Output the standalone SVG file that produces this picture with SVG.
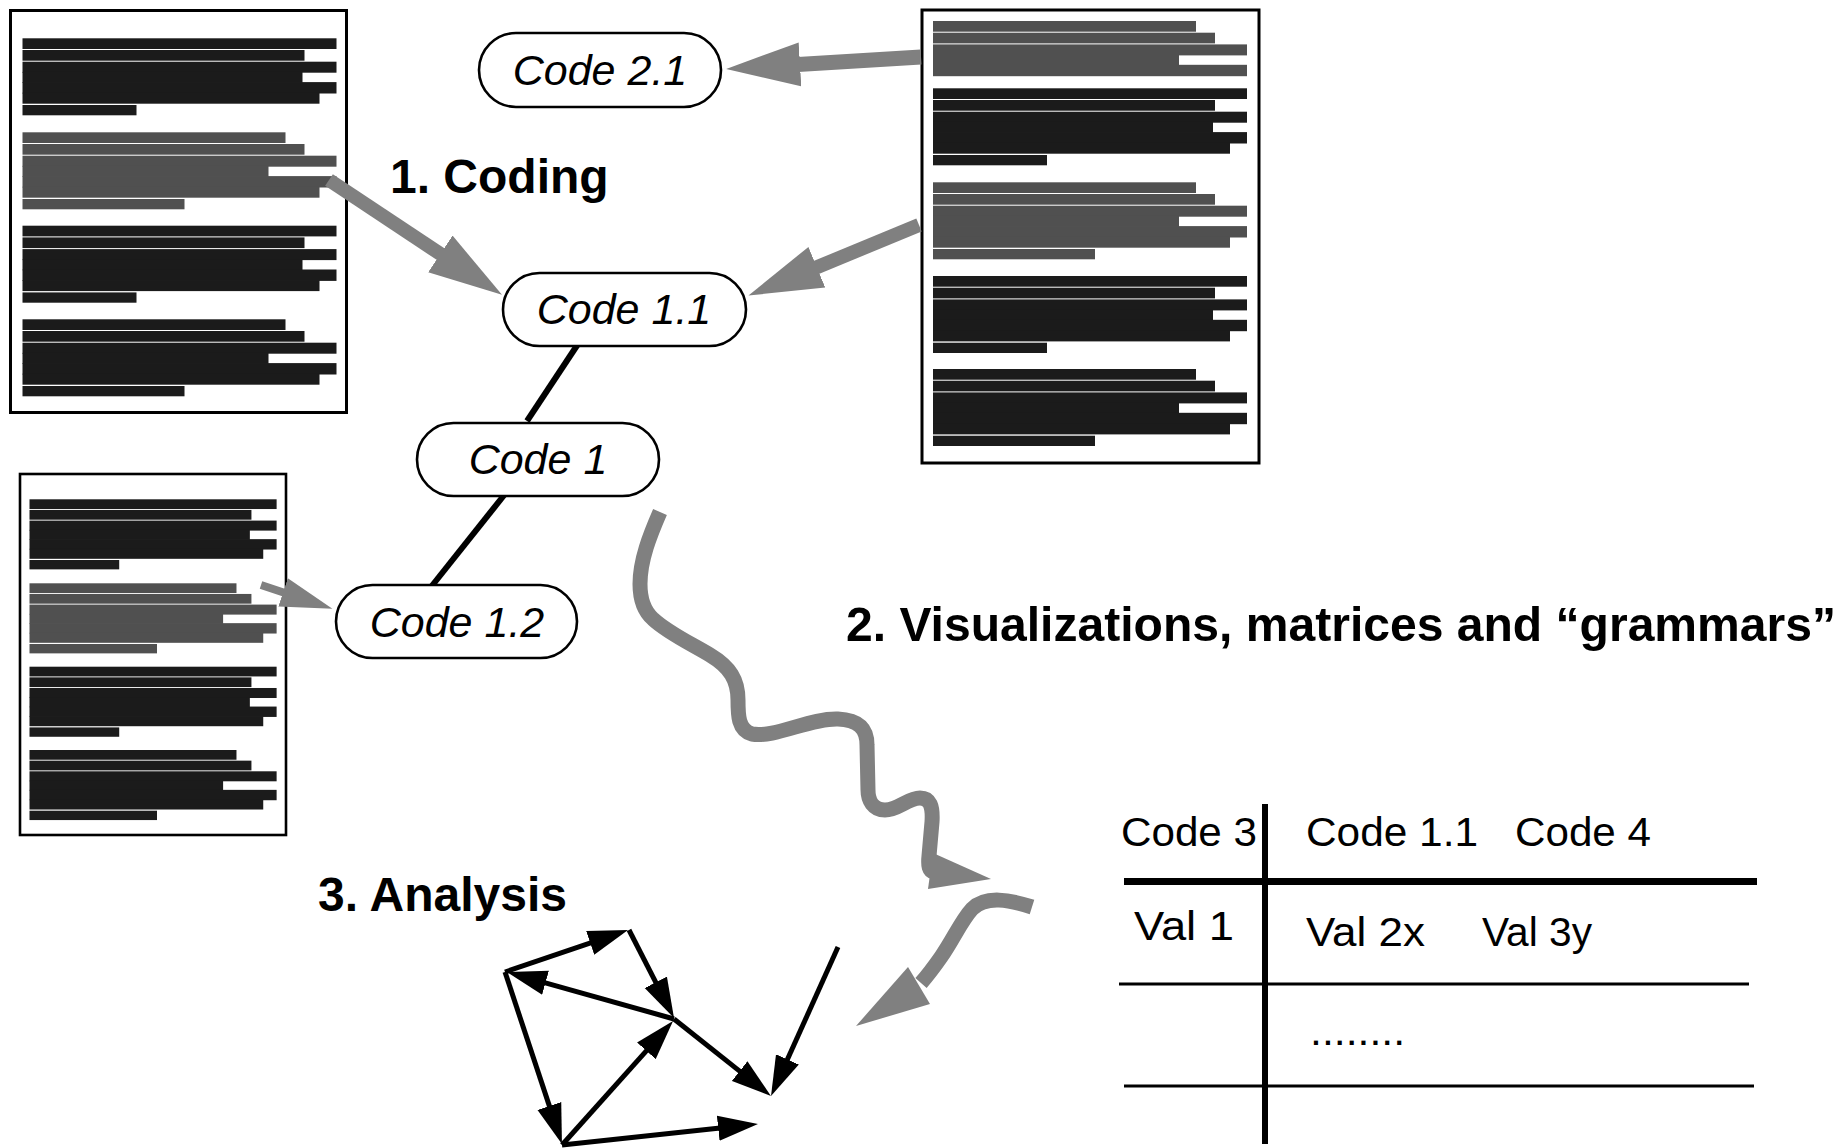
<svg xmlns="http://www.w3.org/2000/svg" xmlns:xlink="http://www.w3.org/1999/xlink" width="1847" height="1148" viewBox="0 0 1847 1148">
  <style>
    .box { fill: #fff; stroke: #000; stroke-width: 3; }
    .pill { fill: #fff; stroke: #000; stroke-width: 2.6; }
    .ntxt { font-family: "Liberation Sans", Arial, sans-serif; font-style: italic; font-size: 43px; text-anchor: middle; fill: #000; }
    .lbl { font-family: "Liberation Sans", Arial, sans-serif; font-weight: bold; font-size: 48px; fill: #000; }
    .tbl { font-family: "Liberation Sans", Arial, sans-serif; font-size: 40px; fill: #000; }
    .link { stroke: #000; stroke-width: 6; }
    .gline { stroke: #808080; fill: none; stroke-linecap: butt; }
    .ghead { fill: #808080; }
    .edge { stroke: #000; stroke-width: 5; fill: none; marker-end: url(#blackHead); }
    .rule { stroke: #000; }
    .ink { fill: #1b1b1b; }
    .hl { fill: #505050; }
  </style>
  <defs>
    <!-- redacted paragraph blocks, 314 wide, 77 tall; rows 3-6 overlap so they read as one block -->
    <g id="paraA">
      <rect x="0" y="0" width="314" height="10.7"/>
      <rect x="0" y="11.7" width="282" height="10.7"/>
      <rect x="0" y="23.4" width="314" height="11"/>
      <rect x="0" y="33.6" width="280" height="11"/>
      <rect x="0" y="43.8" width="314" height="11.4"/>
      <rect x="0" y="54.4" width="297" height="11"/>
      <rect x="0" y="66.7" width="114" height="10.3"/>
    </g>
    <g id="paraBtop">
      <rect x="0" y="0" width="263" height="10.7"/>
      <rect x="0" y="11.7" width="282" height="10.7"/>
      <rect x="0" y="23.4" width="314" height="11"/>
      <rect x="0" y="33.6" width="246" height="11"/>
      <rect x="0" y="43.8" width="314" height="11.4"/>
    </g>
    <g id="paraB">
      <use href="#paraBtop"/>
      <rect x="0" y="54.4" width="297" height="11"/>
      <rect x="0" y="66.7" width="162" height="10.3"/>
    </g>
    <marker id="bigHead" markerUnits="userSpaceOnUse" viewBox="0 -23 76 46" refX="2" refY="0" markerWidth="76" markerHeight="46" orient="auto">
      <path d="M0,-22 L74,0 L0,22 z" fill="#808080"/>
    </marker>
    <marker id="smallHead" markerUnits="userSpaceOnUse" viewBox="0 -16 54 32" refX="2" refY="0" markerWidth="54" markerHeight="32" orient="auto">
      <path d="M0,-15 L52,0 L0,15 z" fill="#808080"/>
    </marker>
    <marker id="blackHead" markerUnits="userSpaceOnUse" viewBox="0 -13 41 26" refX="2" refY="0" markerWidth="41" markerHeight="26" orient="auto">
      <path d="M0,-12.5 L40,0 L0,12.5 z" fill="#000"/>
    </marker>
  </defs>

  <rect width="1847" height="1148" fill="#fff"/>

  <!-- source documents -->
  <g id="doc-left">
    <rect class="box" x="10.5" y="10.5" width="336" height="402"/>
    <use href="#paraA" class="ink" x="22.5" y="38.3"/>
    <use href="#paraB" class="hl" x="22.5" y="132.3"/>
    <use href="#paraA" class="ink" x="22.5" y="225.7"/>
    <use href="#paraB" class="ink" x="22.5" y="319.3"/>
  </g>

  <g id="doc-right">
    <rect class="box" x="922" y="10" width="337" height="453"/>
    <use href="#paraBtop" class="hl" x="933" y="21"/>
    <use href="#paraA" class="ink" x="933" y="88.3"/>
    <use href="#paraB" class="hl" x="933" y="182.3"/>
    <use href="#paraA" class="ink" x="933" y="276"/>
    <use href="#paraB" class="ink" x="933" y="369"/>
  </g>

  <g id="doc-bottom">
    <rect class="box" x="20" y="474" width="266" height="361" style="stroke-width:2.6"/>
    <use href="#paraA" class="ink" transform="translate(29.5,499.3) scale(0.787,0.91)"/>
    <use href="#paraB" class="hl" transform="translate(29.5,583.3) scale(0.787,0.91)"/>
    <use href="#paraA" class="ink" transform="translate(29.5,666.7) scale(0.787,0.91)"/>
    <use href="#paraB" class="ink" transform="translate(29.5,750) scale(0.787,0.91)"/>
  </g>

  <!-- section headings -->
  <g id="labels">
    <text class="lbl" x="390" y="193">1. Coding</text>
    <text class="lbl" x="846" y="641" textLength="990" lengthAdjust="spacingAndGlyphs">2. Visualizations, matrices and “grammars”</text>
    <text class="lbl" x="318" y="911">3. Analysis</text>
  </g>

  <!-- connectors -->
  <g id="connectors">
    <!-- coding arrows from documents to codes -->
    <line class="gline" x1="329" y1="180" x2="442" y2="255" stroke-width="14" marker-end="url(#bigHead)"/>
    <line class="gline" x1="919" y1="225" x2="815" y2="268" stroke-width="14" marker-end="url(#bigHead)"/>
    <line class="gline" x1="921" y1="57" x2="798" y2="64.5" stroke-width="15" marker-end="url(#bigHead)"/>
    <line class="gline" x1="261" y1="585" x2="285" y2="593" stroke-width="8" marker-end="url(#smallHead)"/>

    <!-- code hierarchy links -->
    <line class="link" x1="578" y1="344" x2="527" y2="421"/>
    <line class="link" x1="505" y1="494" x2="431" y2="587"/>

    <!-- wavy arrow towards the matrix -->
    <path class="gline" stroke-width="15" d="M660,512 C650,535 640,560 640,584 C640,600 644,611 653,619 C668,633 690,643 710,655 C730,667 738,680 738,700 C738,715 738,730 752,734 C775,738 810,718 838,719 C858,720 867,728 867,745 L868,790 C868,800 873,810 885,810 C898,810 908,798 920,798 C930,798 933,806 932,822 L929,856 C928,866 929,871 934,872"/>
    <polygon class="ghead" points="933,853 991,879 928,889"/>

    <!-- wavy arrow from the matrix to the analysis -->
    <path class="gline" stroke-width="15" d="M1032,907 C1010,900 986,895 972,909 C961,921 953,940 941,957 C934,967 928,975 921,983"/>
    <polygon class="ghead" points="908,967 856,1026 930,1004"/>
  </g>

  <!-- codes -->
  <g id="code-2-1">
    <rect class="pill" x="479" y="33" width="242" height="74" rx="37"/>
    <text class="ntxt" x="600" y="85">Code 2.1</text>
  </g>
  <g id="code-1-1">
    <rect class="pill" x="503" y="273" width="243" height="73" rx="36.5"/>
    <text class="ntxt" x="624" y="324">Code 1.1</text>
  </g>
  <g id="code-1">
    <rect class="pill" x="417" y="423" width="242" height="73" rx="36.5"/>
    <text class="ntxt" x="538" y="474">Code 1</text>
  </g>
  <g id="code-1-2">
    <rect class="pill" x="336" y="585" width="241" height="73" rx="36.5"/>
    <text class="ntxt" x="457" y="637">Code 1.2</text>
  </g>

  <!-- code matrix -->
  <g id="matrix">
    <line class="rule" x1="1265" y1="804" x2="1265" y2="1144" stroke-width="6"/>
    <line class="rule" x1="1124" y1="881.5" x2="1757" y2="881.5" stroke-width="7"/>
    <line class="rule" x1="1119" y1="984" x2="1749" y2="984" stroke-width="3"/>
    <line class="rule" x1="1124" y1="1086" x2="1754" y2="1086" stroke-width="3"/>
    <text class="tbl" x="1121" y="846" textLength="136" lengthAdjust="spacingAndGlyphs">Code 3</text>
    <text class="tbl" x="1306" y="846" textLength="172" lengthAdjust="spacingAndGlyphs">Code 1.1</text>
    <text class="tbl" x="1515" y="846" textLength="136" lengthAdjust="spacingAndGlyphs">Code 4</text>
    <text class="tbl" x="1134" y="940" textLength="100" lengthAdjust="spacingAndGlyphs">Val 1</text>
    <text class="tbl" x="1306" y="946" textLength="119" lengthAdjust="spacingAndGlyphs">Val 2x</text>
    <text class="tbl" x="1482" y="946" textLength="110" lengthAdjust="spacingAndGlyphs">Val 3y</text>
    <text class="tbl" x="1310" y="1045" textLength="95" lengthAdjust="spacingAndGlyphs">........</text>
  </g>

  <!-- analysis graph -->
  <g id="analysis-graph">
    <line class="edge" x1="505" y1="972" x2="592.1" y2="942.3"/>
    <line class="edge" x1="629" y1="930" x2="656.7" y2="984.1"/>
    <line class="edge" x1="674" y1="1019" x2="543.6" y2="982.3"/>
    <line class="edge" x1="505" y1="972" x2="550" y2="1107.9"/>
    <line class="edge" x1="562" y1="1145" x2="647.7" y2="1049.3"/>
    <line class="edge" x1="674" y1="1019" x2="741.2" y2="1072.4"/>
    <line class="edge" x1="838" y1="947" x2="786.6" y2="1061.3"/>
    <line class="edge" x1="562" y1="1145" x2="720.2" y2="1128"/>
  </g>
</svg>
